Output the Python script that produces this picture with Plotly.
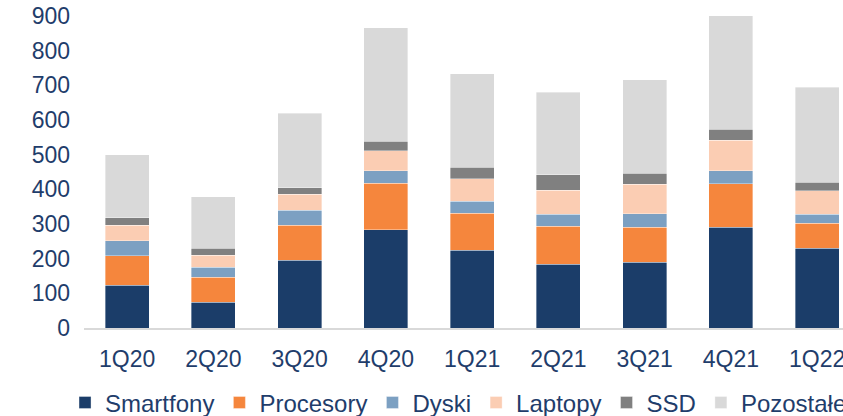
import plotly.graph_objects as go

categories = ["1Q20", "2Q20", "3Q20", "4Q20", "1Q21", "2Q21", "3Q21", "4Q21", "1Q22"]
smartfony = [123, 74, 196, 283, 224, 184, 189, 291, 230]
procesory = [86, 72, 100, 135, 107, 109, 102, 125, 72]
dyski = [43, 29, 43, 36, 34, 35, 38, 38, 26]
laptopy = [44, 35, 47, 58, 66, 69, 86, 88, 68]
ssd = [22, 20, 19, 26, 32, 45, 31, 31, 24]
pozostale = [182, 149, 215, 328, 270, 238, 270, 329, 274]

series = [
    ("Smartfony", smartfony, "#1B3D69"),
    ("Procesory", procesory, "#F5863D"),
    ("Dyski", dyski, "#7CA0C2"),
    ("Laptopy", laptopy, "#FBCDB3"),
    ("SSD", ssd, "#808080"),
    ("Pozostałe", pozostale, "#D9D9D9"),
]

text_color = "#1F3D6B"
fig = go.Figure()
for name, vals, col in series:
    fig.add_trace(go.Bar(
        name=name, x=categories, y=vals,
        marker=dict(color=col, line=dict(color="rgba(255,255,255,0.6)", width=0.6)),
    ))

fig.update_layout(
    barmode="stack",
    bargap=0.49,
    width=843, height=416,
    margin=dict(l=84, r=0, t=16, b=88, autoexpand=False),
    plot_bgcolor="white", paper_bgcolor="white",
    font=dict(family="Liberation Sans, Arial, sans-serif", color=text_color, size=23),
    xaxis=dict(
        range=[-0.5, 8.3], showgrid=False, showline=True, linecolor="#D9D9D9",
        linewidth=2, ticks="", ticklabelstandoff=9, tickfont=dict(size=23),
        automargin=False,
    ),
    yaxis=dict(
        range=[0, 900], dtick=100, showgrid=False, showline=False, zeroline=False,
        ticks="", ticklabelstandoff=13, tickfont=dict(size=23), automargin=False,
    ),
    legend=dict(
        orientation="h", x=-0.025, xanchor="left", y=-0.24, yanchor="middle",
        font=dict(size=24), traceorder="normal", itemwidth=30,
    ),
    showlegend=True,
)

fig.write_html(
    "out.html",
    config={"displayModeBar": False},
    post_script="document.body.style.margin='0';document.body.style.overflow='hidden';",
)
